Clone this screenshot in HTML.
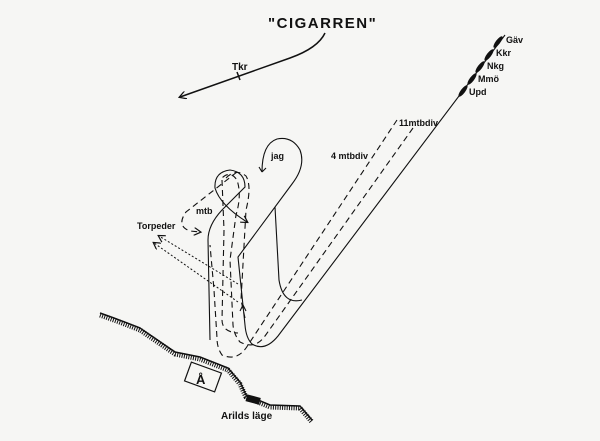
<!DOCTYPE html>
<html><head><meta charset="utf-8"><style>
html,body{margin:0;padding:0;background:#f6f6f4;}
svg{display:block}
text{font-family:"Liberation Sans",sans-serif;font-weight:bold;fill:#111}
</style></head><body>
<svg width="600" height="441" viewBox="0 0 600 441" xmlns="http://www.w3.org/2000/svg">
<rect width="600" height="441" fill="#f6f6f4"/>
<defs>
<marker id="ar" markerWidth="8" markerHeight="8" refX="6" refY="4" orient="auto" markerUnits="userSpaceOnUse">
<path d="M0,0 L7,4 L0,8" fill="none" stroke="#111" stroke-width="1.2"/></marker>
</defs>
<text x="268" y="28" font-size="15" letter-spacing="1.5">"CIGARREN"</text>
<path d="M325,33 Q318,48 290,58 L180,97" fill="none" stroke="#111" stroke-width="1.5" marker-end="url(#ar)"/>
<line x1="237" y1="72" x2="240" y2="80" stroke="#111" stroke-width="1.5"/>
<text x="232" y="70" font-size="10">Tkr</text>
<g fill="#111">
<ellipse cx="498" cy="42" rx="2.2" ry="7" transform="rotate(37 498 42)"/>
<ellipse cx="489" cy="55" rx="2.2" ry="7" transform="rotate(37 489 55)"/>
<ellipse cx="480" cy="67" rx="2.2" ry="7" transform="rotate(37 480 67)"/>
<ellipse cx="472" cy="79" rx="2.2" ry="7" transform="rotate(37 472 79)"/>
<ellipse cx="463" cy="91" rx="2.2" ry="7" transform="rotate(37 463 91)"/>
</g>
<text x="506" y="43" font-size="9">Gäv</text>
<text x="496" y="56" font-size="9">Kkr</text>
<text x="487" y="69" font-size="9">Nkg</text>
<text x="478" y="82" font-size="9">Mmö</text>
<text x="469" y="95" font-size="9">Upd</text>
<text x="399" y="126" font-size="9">11mtbdiv</text>
<text x="331" y="159" font-size="9">4 mtbdiv</text>
<text x="271" y="159" font-size="9">jag</text>
<text x="196" y="214" font-size="9">mtb</text>
<text x="137" y="229" font-size="9">Torpeder</text>
<g fill="none" stroke="#111" stroke-width="1.1">
<path d="M505,35 L278,336 Q265,352 252,344 Q246,338 245,325 L238,257 L292,184 Q306,166 300,150 Q292,136 277,139 Q262,144 262,172"/>
<path d="M262,172 l-3,-5 M262,172 l4,-4"/>
<path d="M243,305 l-3,6 M243,305 l3,6"/>
<path d="M275,207 L279,280 Q283,305 302,300"/>
<path d="M210,340 L208,240 Q208,225 222,210 L245,187 Q245,172 230,170 Q214,172 215,188 Q220,205 247,222" marker-end="url(#ar)"/>
</g>
<g fill="none" stroke="#111" stroke-width="1.1" stroke-dasharray="6,4">
<path d="M397,120 L248,345 Q238,362 222,355 Q217,348 217,338 L214,290 L210,245"/>
<path d="M413,128 L265,336 Q255,350 240,342 Q234,335 233,325 L230,260 L236,215 Q242,195 237,180 Q230,170 222,178"/>
<path d="M226,178 Q236,168 246,176 Q252,186 246,210 L241,300 L245,318"/>
<path d="M237,172 L186,212 Q176,226 190,231 L200,232" marker-end="url(#ar)"/>
<path d="M222,180 L224,230 L222,320 Q222,332 238,333"/>
</g>
<g fill="none" stroke="#111" stroke-width="1" stroke-dasharray="2,2">
<path d="M238,284 L159,236" marker-end="url(#ar)"/>
<path d="M238,302 L154,243" marker-end="url(#ar)"/>
</g>
<path d="M100,313 Q120,320 140,328 L175,352 L200,357 L228,368 L240,382 L246,395 L270,405 L300,406 L312,420" fill="none" stroke="#111" stroke-width="1.5"/>
<path d="M100,315 Q120,322 140,330 L175,354 L200,359 L228,370 L240,384 L246,397 L270,407 L300,408 L312,422" fill="none" stroke="#111" stroke-width="5" stroke-dasharray="1,1.3"/>
<rect x="187" y="367" width="32" height="20" fill="#f6f6f4" stroke="#111" stroke-width="1.2" transform="rotate(20 203 377)"/>
<text x="196" y="384" font-size="13" font-family="Liberation Serif">Å</text>
<rect x="246" y="396" width="14" height="7" fill="#111" transform="rotate(15 253 400)"/>
<text x="221" y="419" font-size="10">Arilds läge</text>
</svg>
</body></html>
